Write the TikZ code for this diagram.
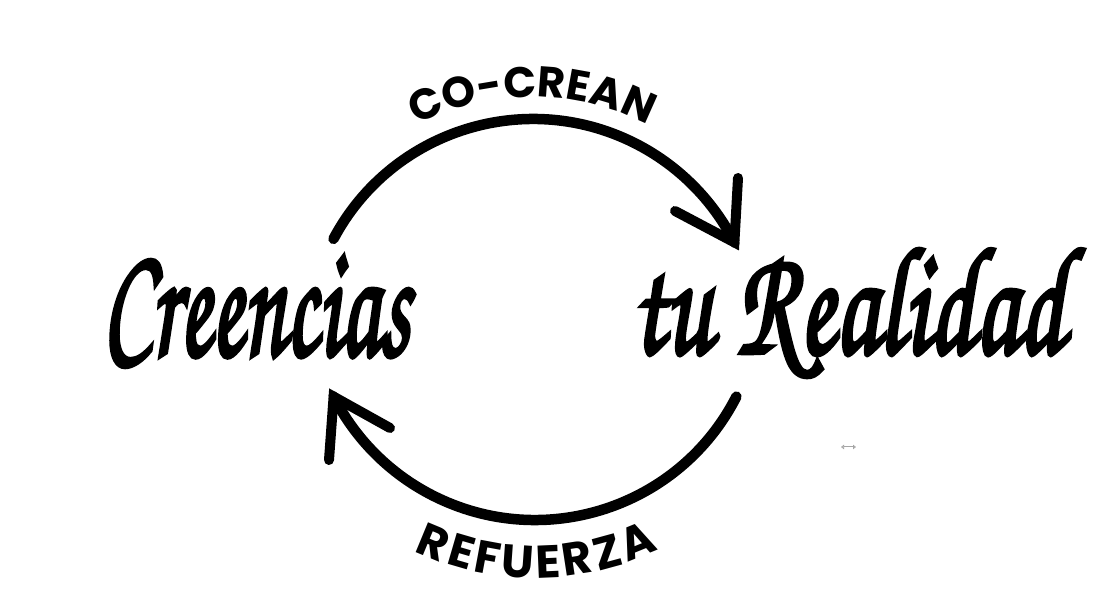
\documentclass[tikz,border=0pt]{standalone}
\usepackage{fontspec}
\newfontfamily\pop{Poppins}
\newfontfamily\scriptfnt{texgyrechorus-mediumitalic.otf}[FakeBold=3]
\usetikzlibrary{decorations.text,arrows.meta}
\newcommand\popfont{\pop\bfseries\fontsize{43pt}{43pt}\selectfont}
\newcommand\popfontb{\pop\bfseries\fontsize{46pt}{46pt}\selectfont\kern3.5pt}
\tikzset{
  arcline/.style={line width=10.5pt, line cap=round},
  barb/.style={line width=10pt, line cap=round, line join=miter},
  scripttext/.style={inner sep=0pt, text=black}
}
\begin{document}
\begin{tikzpicture}[x=1pt,y=1pt]
\fill[white] (0,0) rectangle (1108,613);
\useasboundingbox (0,0) rectangle (1108,613);
% script words
\node[scripttext] (cre) at (256,302) {\resizebox{307pt}{100pt}{\scriptfnt Creencias}};
\node[scripttext] (real) at (848,300) {\resizebox{433pt}{104pt}{\scriptfnt tu Realidad}};
% top arc: Creencias -> tu Realidad
\coordinate (ta) at (333.5,374.1);
\coordinate (tt) at (734.4,370.6);
\draw[arcline] (ta) arc[start angle=152,end angle=27,radius=226];
\coordinate (tb1) at (738,435);
\coordinate (tb2) at (675,402);
\draw[barb] (tb1) -- (tt) -- (tb2);
% bottom arc: tu Realidad -> Creencias
\coordinate (ba) at (736.4,216.4);
\coordinate (bt) at (333.6,216.4);
\draw[arcline] (ba) arc[start angle=-27,end angle=-153,radius=226];
\coordinate (bb1) at (329,153);
\coordinate (bb2) at (390,185);
\draw[barb] (bb1) -- (bt) -- (bb2);
% curved labels
\coordinate (cs) at (317.5,392);
\path[decorate, decoration={text along path, text={|\popfont|CO-CREAN}, text align=center}]
  (cs) arc[start angle=150,end angle=30,radius=248];
\coordinate (rs) at (289,177);
\path[decorate, decoration={text along path, text={|\popfontb|REFUERZA}, text align=center}]
  (rs) arc[start angle=210,end angle=330,radius=284];
% small resize icon
\coordinate (i1) at (841,166);
\coordinate (i2) at (856,166);
\draw[gray!70, line width=1pt, {Triangle[open,length=3pt,width=4.5pt]}-{Triangle[open,length=3pt,width=4.5pt]}] (i1) -- (i2);
\end{tikzpicture}
\end{document}
